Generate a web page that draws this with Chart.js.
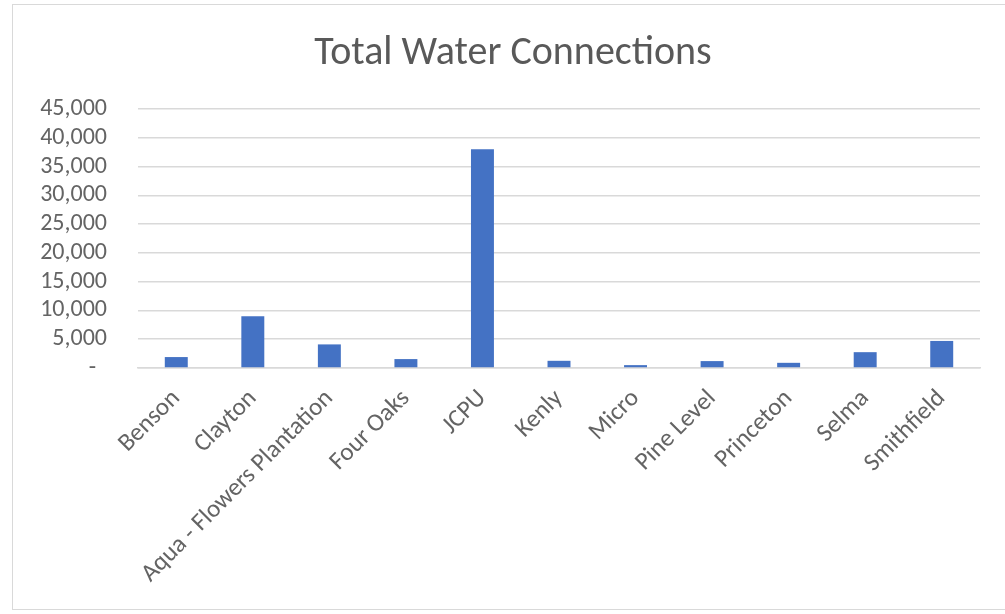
<!DOCTYPE html>
<html>
<head>
<meta charset="utf-8">
<script src="https://cdn.jsdelivr.net/npm/chart.js@4"></script>
<style>
  html, body { margin: 0; padding: 0; background: #ffffff; }
  #wrap { position: relative; width: 1005px; height: 614px; overflow: hidden; }
  #c { position: absolute; left: 0; top: 0; }
  #frame { position: absolute; left: 12px; top: 4px; width: 995px; height: 606px;
           border: 1px solid #d9d9d9; box-sizing: border-box; pointer-events: none; }
</style>
</head>
<body>
<div id="wrap">
  <canvas id="c" width="1005" height="614"></canvas>
  <div id="frame"></div>
</div>
<script>
const titleText = 'Total Water Connections';
const categories = ['Benson', 'Clayton', 'Aqua - Flowers Plantation', 'Four Oaks', 'JCPU', 'Kenly', 'Micro', 'Pine Level', 'Princeton', 'Selma', 'Smithfield'];
const connections = [1900, 9000, 4100, 1550, 38000, 1250, 500, 1200, 900, 2750, 4700];
const yMin = 0;
const yMax = 45000;
const yStep = 5000;

const FONT = 'Carlito, Lato, "Open Sans", sans-serif';
const TEXT = '#646464';

// Title centred over the whole framed chart (Excel style), not the canvas minus padding
const frameTitle = {
  id: 'frameTitle',
  afterDraw(chart) {
    const ctx = chart.ctx;
    ctx.save();
    ctx.font = '40px ' + FONT;
    ctx.fillStyle = '#595959';
    ctx.textAlign = 'center';
    ctx.textBaseline = 'middle';
    ctx.fillText(titleText, 513, 54);
    ctx.restore();
  }
};

new Chart(document.getElementById('c'), {
  type: 'bar',
  data: {
    labels: categories,
    datasets: [{
      label: titleText,
      data: connections,
      backgroundColor: '#4472C4',
      borderWidth: 0,
      barPercentage: 0.3,
      categoryPercentage: 1.0
    }]
  },
  plugins: [frameTitle],
  options: {
    responsive: false,
    animation: false,
    layout: { padding: { left: 0, right: 25, top: 109, bottom: 0 } },
    plugins: {
      legend: { display: false },
      tooltip: { enabled: false },
      title: { display: false }
    },
    scales: {
      x: {
        grid: { display: false, drawTicks: false },
        border: { display: true, color: '#d9d9d9', width: 1.5 },
        ticks: {
          autoSkip: false,
          minRotation: 45,
          maxRotation: 45,
          padding: 16,
          color: TEXT,
          font: { family: FONT, size: 25 }
        },
        afterFit: (s) => { s.height = 614 - 368; }
      },
      y: {
        min: yMin,
        max: yMax,
        grid: { color: '#d9d9d9', lineWidth: 1.5, drawTicks: false },
        border: { display: false },
        ticks: {
          stepSize: yStep,
          autoSkip: false,
          padding: 31,
          color: TEXT,
          font: { family: FONT, size: 24, lineHeight: 1.0 },
          callback: (v) => v === 0 ? '-  ' : Number(v).toLocaleString('en-US')
        },
        afterFit: (s) => { s.width = 138; }
      }
    }
  }
});
</script>
</body>
</html>
